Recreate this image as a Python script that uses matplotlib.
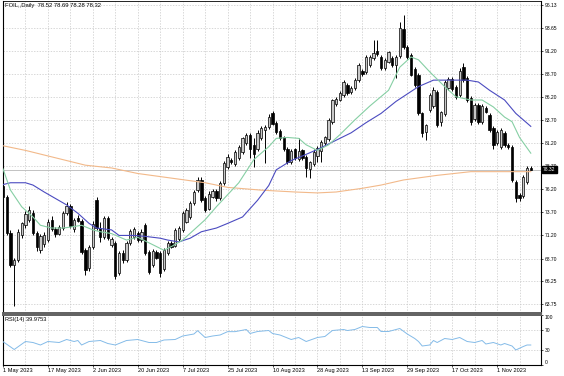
import matplotlib
matplotlib.use('Agg')
import matplotlib.pyplot as plt
import numpy as np

plt.rcParams['font.family'] = ['Liberation Sans', 'DejaVu Sans']

# Candles diarios, barra 0 = 1 May 2023
opens = [76.6, 75.35, 71.45, 68.0, 68.5, 71.2, 72.3, 72.9, 73.6, 71.45,
         69.6, 70.3, 70.7, 72.9, 71.9, 71.4, 72.0, 73.6, 74.4, 71.9,
         73.1, 72.8, 69.6, 67.7, 69.9, 75.0, 72.0, 71.0, 73.1, 70.2,
         70.4, 67.1, 69.3, 68.5, 70.4, 71.0, 71.5, 70.7, 72.3, 69.4,
         68.0, 69.4, 69.3, 67.6, 69.3, 70.4, 70.1, 70.8, 71.8, 72.7,
         73.2, 74.7, 76.1, 77.2, 75.3, 74.1, 75.4, 76.0, 75.2, 76.9,
         78.6, 79.4, 78.9, 79.6, 80.2, 81.2, 82.1, 81.0, 80.6, 81.7,
         82.6, 82.9, 84.4, 83.4, 82.5, 81.8, 80.6, 79.1, 80.5, 79.5,
         80.4, 79.7, 78.4, 78.9, 79.8, 80.3, 81.2, 81.6, 83.5, 85.4,
         85.9, 86.4, 87.5, 86.7, 87.1, 88.0, 89.0, 88.9, 89.6, 90.4,
         91.1, 90.5, 89.3, 90.0, 90.4, 89.6, 90.6, 93.5, 91.6, 90.7,
         89.2, 88.6, 84.4, 82.4, 84.8, 85.2, 86.7, 83.5, 84.3, 87.1,
         88.1, 87.3, 86.4, 89.4, 88.2, 86.1, 83.8, 85.3, 83.5, 85.0,
         84.2, 82.8, 81.2, 80.8, 82.3, 81.0, 80.8, 77.0, 75.6, 75.5,
         77.0, 78.52]
highs = [76.9, 75.6, 71.8, 68.8, 71.9, 72.7, 73.8, 74.4, 73.9, 71.7,
         71.4, 71.6, 73.0, 73.3, 72.1, 72.3, 73.8, 74.8, 74.6, 73.1,
         73.4, 73.0, 69.8, 70.2, 72.8, 75.4, 72.6, 73.3, 73.3, 71.0,
         70.6, 69.5, 69.6, 70.6, 71.9, 72.1, 71.7, 71.9, 72.5, 69.6,
         69.7, 69.6, 69.5, 69.8, 70.6, 70.6, 72.0, 72.2, 73.8, 74.2,
         74.9, 76.1, 77.5, 77.5, 75.5, 76.0, 76.2, 76.2, 77.1, 79.3,
         80.0, 79.6, 80.4, 81.0, 81.9, 82.3, 82.3, 81.7, 82.6, 83.0,
         83.2, 84.3, 84.7, 83.6, 82.7, 82.0, 80.8, 80.5, 80.7, 81.7,
         80.6, 79.9, 79.3, 80.6, 80.9, 81.5, 82.0, 83.9, 86.0, 86.2,
         86.8, 88.0, 87.7, 87.4, 88.2, 89.8, 89.2, 90.7, 90.7, 92.3,
         92.3, 90.7, 90.4, 91.2, 90.6, 90.7, 94.3, 95.0, 91.8, 90.9,
         89.4, 88.8, 84.6, 83.3, 86.6, 87.3, 86.9, 84.7, 88.0, 88.3,
         88.3, 87.5, 89.3, 89.9, 88.4, 86.3, 85.5, 85.5, 85.4, 85.2,
         84.4, 83.0, 82.6, 82.8, 82.5, 81.2, 81.0, 77.2, 75.8, 77.7,
         78.7, 78.69]
lows = [75.2, 71.3, 67.8, 63.6, 68.3, 70.9, 72.0, 72.7, 71.3, 69.5,
        69.3, 69.9, 70.5, 71.7, 71.0, 71.2, 71.8, 73.4, 72.0, 71.6,
        72.6, 69.2, 66.9, 67.4, 69.7, 71.8, 70.5, 70.8, 70.7, 69.9,
        66.5, 66.9, 68.2, 68.3, 70.2, 70.8, 70.5, 70.5, 69.1, 67.0,
        67.8, 68.6, 66.7, 67.4, 69.1, 69.8, 69.9, 70.6, 71.6, 72.5,
        73.0, 74.5, 75.9, 74.8, 73.7, 73.9, 75.2, 74.9, 75.0, 76.7,
        78.4, 78.9, 78.7, 79.4, 80.0, 81.0, 79.6, 78.6, 80.3, 81.5,
        79.0, 82.7, 83.1, 82.2, 81.5, 80.3, 78.9, 78.9, 79.4, 79.3,
        79.4, 77.5, 77.4, 78.7, 79.1, 79.1, 81.0, 81.4, 83.3, 85.2,
        85.7, 86.2, 86.4, 86.5, 86.9, 87.8, 88.5, 88.7, 89.4, 90.2,
        90.6, 89.1, 89.1, 89.8, 89.4, 88.2, 90.4, 91.4, 90.3, 88.4,
        87.3, 84.2, 81.9, 81.5, 84.5, 85.0, 82.9, 83.0, 84.1, 86.9,
        86.8, 86.0, 86.2, 87.8, 85.6, 83.2, 83.6, 83.3, 83.3, 84.4,
        82.4, 80.5, 81.0, 80.6, 80.8, 80.6, 77.0, 74.8, 74.9, 75.3,
        76.8, 78.28]
closes = [75.35, 71.45, 68.0, 68.5, 71.6, 72.5, 73.5, 73.9, 71.5, 69.9,
          71.1, 71.3, 72.6, 71.9, 71.4, 72.1, 73.6, 74.4, 72.2, 72.9,
          72.8, 69.4, 67.5, 69.9, 72.4, 72.0, 71.0, 73.1, 70.9, 70.8,
          66.8, 69.3, 68.5, 70.4, 71.7, 71.9, 70.7, 71.6, 69.3, 67.2,
          69.5, 68.8, 67.1, 69.6, 70.4, 70.0, 71.8, 72.0, 73.6, 74.0,
          74.7, 75.9, 77.2, 75.0, 74.0, 75.7, 76.0, 75.2, 76.9, 79.0,
          79.7, 79.1, 80.2, 80.8, 81.7, 82.1, 80.6, 80.0, 82.3, 82.8,
          82.9, 84.0, 83.3, 82.4, 81.7, 80.5, 79.1, 80.3, 79.6, 80.3,
          79.6, 78.5, 79.1, 80.2, 80.7, 81.3, 81.8, 83.7, 85.8, 86.0,
          86.6, 87.8, 86.6, 87.2, 88.0, 89.6, 88.7, 90.5, 90.5, 90.9,
          90.8, 89.3, 90.2, 91.0, 89.6, 90.5, 93.6, 91.6, 90.5, 88.6,
          87.5, 84.4, 82.3, 83.1, 86.4, 86.9, 83.1, 84.5, 87.8, 88.1,
          87.0, 86.2, 89.0, 88.0, 85.85, 83.5, 85.3, 83.5, 85.2, 84.6,
          82.6, 81.0, 82.4, 82.6, 81.0, 80.8, 77.2, 75.2, 75.3, 77.5,
          78.5, 78.32]

# Medias moveis (barra, valor)
ma_fast_bar = [0, 2, 5, 8, 10, 13, 16, 18, 21, 24, 26, 29, 33, 36, 40, 43, 45, 48, 51, 54,
               57, 60, 63, 67, 71, 73, 76, 79, 81, 84, 87, 90, 94, 98, 103, 106, 109, 111, 114, 118,
               121, 125, 128, 131, 134, 136, 138, 141]
ma_fast_val = [78.4, 76.1, 74.3, 73.2, 72.3, 72.0, 72.0, 72.1, 72.3, 71.8, 71.6, 71.4, 70.7, 71.0, 70.2,
               69.6, 70.0, 70.7, 71.8, 72.9, 74.3, 75.6, 76.9, 79.4, 80.8, 81.7, 81.8, 81.7, 81.0, 80.4,
               81.0, 82.1, 83.7, 85.2, 86.9, 89.4, 90.5, 90.2, 88.9, 87.3, 86.2, 85.85, 85.85, 85.1,
               84.0, 83.5, 81.8, 80.1]
ma_mid_bar = [0, 2, 6, 8, 11, 14, 17, 20, 23, 25, 29, 31, 35, 38, 42, 44, 47, 50, 53, 57,
              60, 64, 68, 71, 73, 77, 80, 84, 88, 93, 97, 101, 105, 111, 115, 120, 124, 127, 130, 134,
              137, 141]
ma_mid_val = [76.7, 76.9, 76.9, 76.65, 75.9, 75.2, 74.5, 73.6, 72.5, 72.0, 71.8, 71.2, 71.2, 71.1, 70.9,
              70.7, 70.5, 70.9, 71.6, 72.0, 72.5, 73.2, 75.0, 76.6, 78.3, 79.3, 79.8, 80.5, 81.3, 82.3,
              83.4, 84.4, 85.7, 87.3, 88.0, 88.0, 88.0, 87.8, 86.9, 85.85, 84.4, 83.0]
ma_slow_bar = [0, 6, 13, 22, 29, 36, 45, 54, 60, 69, 78, 84, 89, 96, 101, 107, 116, 125, 134, 141]
ma_slow_val = [80.9, 80.4, 79.7, 78.8, 78.5, 77.9, 77.4, 76.9, 76.4, 76.1, 75.9, 75.8, 75.9, 76.3,
               76.65, 77.2, 77.7, 78.1, 78.1, 78.1]

# RSI(14)
rsi_bar = [0, 3, 6, 8, 10, 12, 15, 17, 19, 20, 21, 23, 26, 28, 30, 33, 36, 37, 39, 41,
           43, 46, 48, 51, 52, 54, 56, 58, 60, 62, 65, 66, 68, 71, 72, 74, 77, 79, 81, 84,
           86, 88, 91, 92, 94, 96, 98, 100, 101, 103, 104, 106, 108, 110, 111, 112, 114, 115, 116, 118,
           120, 122, 124, 126, 128, 129, 131, 133, 134, 136, 137, 139, 140, 141]
rsi_val = [46.7, 31, 47, 45, 40, 47, 45, 51, 47, 49, 40, 47, 49, 43, 40, 49, 51, 49, 45, 45,
           50, 51, 58, 62, 68.7, 55, 58, 60, 66.7, 66.7, 71, 63, 67, 69, 63, 60, 51, 55, 47, 55,
           57, 69, 71, 69, 71, 77, 75, 75, 67, 67, 69, 73, 62, 53, 47, 38, 40, 49, 45, 53,
           51, 55, 47, 45, 49, 42, 45, 40, 43, 38, 30, 37, 40, 39.98]

# Eixos
price_ticks = [96.13, 93.65, 91.20, 88.70, 86.20, 83.70, 81.20, 78.70, 76.20, 73.70, 71.20, 68.70, 66.25, 63.75]
price_labels = ['96.13', '93.65', '91.20', '88.70', '86.20', '83.70', '81.20', '78.70', '76.20',
                '73.70', '71.20', '68.70', '66.25', '63.75']
date_bars = [0, 12, 24, 36, 48, 60, 72, 84, 96, 108, 120, 132]
date_labels = ['1 May 2023', '17 May 2023', '2 Jun 2023', '20 Jun 2023', '7 Jul 2023', '25 Jul 2023',
               '10 Aug 2023', '28 Aug 2023', '13 Sep 2023', '29 Sep 2023', '17 Oct 2023', '1 Nov 2023']

opens = np.array(opens)
closes = np.array(closes)
x = np.arange(len(closes))
up = closes >= opens

W, H = 564, 376
fig = plt.figure(figsize=(W / 100, H / 100), dpi=100)
ax = fig.add_axes([3 / W, 1 - 313 / H, 538 / W, 312 / H])
ax_rsi = fig.add_axes([3 / W, 1 - 365 / H, 538 / W, 50 / H])

grid_style = dict(color='#c8c8c8', linestyle=(0, (2, 2)), linewidth=0.5)

# Candles
ax.vlines(x, lows, highs, color='black', linewidth=0.7, zorder=2)
body_bottom = np.minimum(opens, closes)
body_h = np.maximum(np.abs(closes - opens), 0.08)
ax.bar(x[up], body_h[up], bottom=body_bottom[up], width=0.62,
       color='#c8c8c8', edgecolor='black', linewidth=0.5, zorder=3)
ax.bar(x[~up], body_h[~up], bottom=body_bottom[~up], width=0.62,
       color='black', edgecolor='black', linewidth=0.5, zorder=3)

# Linha do preco atual
ax.axhline(closes[-1], color='#b8b8b8', linewidth=0.6, zorder=1)

# Medias
ax.plot(ma_slow_bar, ma_slow_val, color='#f2b98a', linewidth=0.8, zorder=4)
ax.plot(ma_mid_bar, ma_mid_val, color='#4b4bc0', linewidth=0.8, zorder=4)
ax.plot(ma_fast_bar, ma_fast_val, color='#86cfa4', linewidth=0.8, zorder=4)

ax.set_xlim(0.27, 143.73)
ax.set_ylim(62.81, 96.56)
ax.set_xticks(range(0, 144, 6))
ax.tick_params(axis='x', length=0, labelbottom=False)
ax.set_yticks(price_ticks)
ax.set_yticklabels(price_labels)
ax.yaxis.tick_right()
ax.tick_params(axis='y', length=1.5, width=0.5, pad=1.0, labelsize=3.6)
ax.grid(True, **grid_style)
ax.set_axisbelow(True)
for s in ['left', 'right']:
    ax.spines[s].set_linewidth(0.8)
ax.spines['top'].set_linewidth(0.6)
ax.spines['bottom'].set_color('#606060')
ax.spines['bottom'].set_linewidth(1.4)

ax.annotate(f'{closes[-1]:.2f}', xy=(1, closes[-1]), xycoords=('axes fraction', 'data'),
            xytext=(1.6, 0), textcoords='offset points', ha='left', va='center',
            fontsize=3.6, color='white', annotation_clip=False, zorder=10,
            bbox=dict(boxstyle='square,pad=0.25', fc='black', ec='black'))

fig.text(5 / W, 1 - 5.5 / H, 'FOIL,,Daily  78.52 78.69 78.28 78.32', fontsize=4.2,
         ha='left', va='center')

# Painel do RSI
ax_rsi.plot(rsi_bar, rsi_val, color='#84bbe8', linewidth=0.7, zorder=3)
ax_rsi.axhline(70, **grid_style)
ax_rsi.axhline(30, **grid_style)
ax_rsi.set_xlim(0.27, 143.73)
ax_rsi.set_ylim(0, 100)
ax_rsi.set_xticks(date_bars)
ax_rsi.set_xticklabels(date_labels, ha='left')
ax_rsi.set_xticks(range(6, 144, 12), minor=True)
ax_rsi.tick_params(axis='x', which='major', length=1.5, width=0.5, pad=0.6, labelsize=4.1)
ax_rsi.tick_params(axis='x', which='minor', length=0)
ax_rsi.grid(True, axis='x', which='both', **grid_style)
ax_rsi.set_axisbelow(True)
ax_rsi.set_yticks([100, 70, 30, 0])
ax_rsi.set_yticklabels(['100', '70', '30', '0'])
ax_rsi.yaxis.tick_right()
ax_rsi.tick_params(axis='y', length=1.5, width=0.5, pad=1.0, labelsize=3.6)
lbls = ax_rsi.get_yticklabels()
lbls[0].set_va('top')
lbls[3].set_va('bottom')
for s in ['left', 'right', 'bottom']:
    ax_rsi.spines[s].set_linewidth(0.8)
ax_rsi.spines['top'].set_color('#606060')
ax_rsi.spines['top'].set_linewidth(1.4)

fig.text(5 / W, 1 - 320 / H, 'RSI(14) 39.9753', fontsize=4.1, ha='left', va='center')

fig.savefig('out.png', dpi=100)
